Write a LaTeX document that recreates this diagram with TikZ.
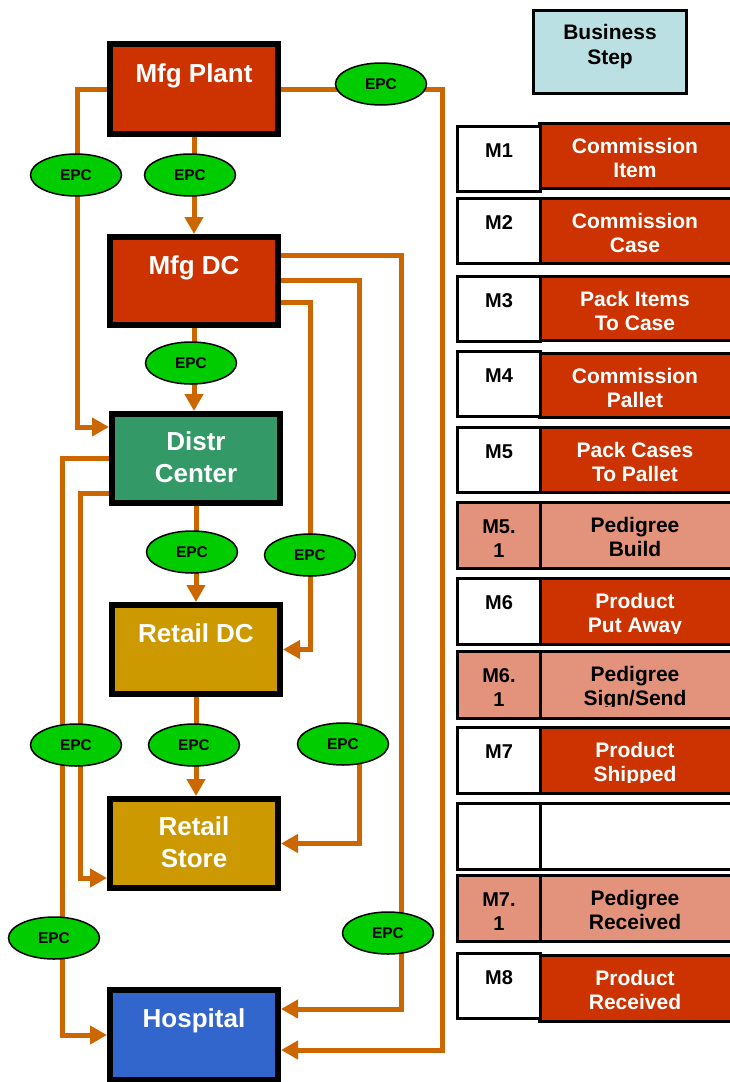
\documentclass[tikz,border=0pt]{standalone}
\usepackage{fontspec}
\setmainfont{Liberation Sans}
\usetikzlibrary{arrows.meta,shapes.geometric}

\definecolor{mfgred}{HTML}{CC3300}
\definecolor{distgreen}{HTML}{339966}
\definecolor{retailgold}{HTML}{CC9900}
\definecolor{hospblue}{HTML}{3366CC}
\definecolor{epcgreen}{HTML}{00CC00}
\definecolor{flowor}{HTML}{CC6600}
\definecolor{stepblue}{HTML}{BBE0E3}
\definecolor{pedfill}{HTML}{E3937C}

% one row of the business-step table:
% #1 id, #2/#3 top/bottom of code cell, #4/#5 top/bottom of step cell,
% #6 kind (plain, ped or blank), #7 code, #8 step text,
% #9 depth of the code's last baseline below the cell top
% (multi-line nodes sit on the baseline of their last line)
\newcommand\bizrow[9]{%
  \path[cell,#6right] (539,#4) rectangle (736,#5);
  \path[cell,#6left] (457.5,#2) rectangle (540.5,#3);
  \begin{scope}
    \clip (457,#2) rectangle (540,{#2+56});
    \node[#6code] (#1code) at (499,{#2+#9}) {#7};
  \end{scope}
  \begin{scope}
    \clip (541,#4) rectangle (730,{#4+55});
    \node[#6text] (#1text) at (635,{#4+54}) {#8};
  \end{scope}
}

\begin{document}
\begin{tikzpicture}[x=1pt,y=-1pt,
  site/.style={draw=black,line width=6pt,minimum width=168pt,inner sep=0pt},
  sitelabel/.style={text=white,font=\fontsize{26pt}{32pt}\selectfont\bfseries,
    align=center,anchor=base,inner sep=0pt},
  epc/.style={ellipse,draw=black,line width=1.5pt,fill=epcgreen,
    minimum width=91pt,minimum height=42pt,inner sep=0pt,
    font=\fontsize{15.5pt}{18pt}\selectfont\bfseries},
  flow/.style={draw=flowor,line width=5pt,
    -{Triangle[length=17pt,width=18pt]}},
  cell/.style={draw=black,line width=3pt},
  plainleft/.style={fill=white},
  plainright/.style={fill=mfgred},
  pedleft/.style={fill=pedfill},
  pedright/.style={fill=pedfill},
  blankleft/.style={fill=white},
  blankright/.style={fill=white},
  codefont/.style={font=\fontsize{20pt}{24pt}\selectfont\bfseries,
    align=center,anchor=base,inner sep=0pt},
  stepfont/.style={font=\fontsize{21pt}{24pt}\selectfont\bfseries,
    align=center,anchor=base,inner sep=0pt},
  plaincode/.style={codefont,text=black},
  pedcode/.style={codefont,text=black},
  blankcode/.style={codefont},
  plaintext/.style={stepfont,text=white},
  pedtext/.style={stepfont,text=black},
  blanktext/.style={stepfont},
]
\useasboundingbox (0,0) rectangle (730,1082);
\clip (0,0) rectangle (730,1082);

% supply-chain sites
\node[site,fill=mfgred,minimum height=90pt] (plant) at (194,89) {};
\node[site,fill=mfgred,minimum height=88pt] (dc) at (194,281) {};
\node[site,fill=distgreen,minimum height=89pt] (distr) at (196,458.5) {};
\node[site,fill=retailgold,minimum height=89pt] (rdc) at (196,649.5) {};
\node[site,fill=retailgold,minimum height=89pt] (store) at (194,843.5) {};
\node[site,fill=hospblue,minimum height=90pt] (hosp) at (194,1035) {};

\node[sitelabel] (plantT) at (194,82) {Mfg Plant};
\node[sitelabel] (dcT) at (194,274) {Mfg DC};
\node[sitelabel] (distrT) at (196,482) {Distr\\Center};
\node[sitelabel] (rdcT) at (196,642) {Retail DC};
\node[sitelabel] (storeT) at (194,867) {Retail\\Store};
\node[sitelabel] (hospT) at (194,1027) {Hospital};

% vertical lanes of the side routes
\coordinate (xPL) at (77,0);
\coordinate (xPR) at (442,0);
\coordinate (xDo) at (401,0);
\coordinate (xDm) at (359,0);
\coordinate (xDi) at (310,0);
\coordinate (xCu) at (62.5,0);
\coordinate (xCl) at (80,0);

% exit and entry points off the box centres
\coordinate (dcO) at ([yshift=26pt]dc.east);
\coordinate (dcM) at ([yshift=1pt]dc.east);
\coordinate (dcI) at ([yshift=-21pt]dc.east);
\coordinate (distrL) at ([yshift=-35pt]distr.west);
\coordinate (distrIn) at ([yshift=31.5pt]distr.west);
\coordinate (storeIn) at ([yshift=-34.5pt]store.west);
\coordinate (hospHi) at ([yshift=26pt]hosp.east);
\coordinate (hospLo) at ([yshift=-15pt]hosp.east);

% product flows
\draw[flow] (plant.south) -- (dc.north);
\draw[flow] (dc.south) -- (distr.north -| dc.south);
\draw[flow] (distr.south) -- (rdc.north);
\draw[flow] (rdc.south) -- (store.north -| rdc.south);
\draw[flow] (plant.west) -- (plant.west -| xPL) |- (distrIn);
\draw[flow] (plant.east) -- (plant.east -| xPR) |- (hospLo);
\draw[flow] (dcO) -- (dcO -| xDo) |- (hospHi);
\draw[flow] (dcM) -- (dcM -| xDm) |- (store.east);
\draw[flow] (dcI) -- (dcI -| xDi) |- (rdc.east);
\draw[flow] (distr.west) -- (distr.west -| xCu) |- (hosp.west);
\draw[flow] (distrL) -- (distrL -| xCl) |- (storeIn);

% EPC events on the flows
\node[epc] (e1) at (381,84) {EPC};
\node[epc] (e2) at (76,175) {EPC};
\node[epc] (e3) at (190,175) {EPC};
\node[epc] (e4) at (191,363) {EPC};
\node[epc] (e5) at (192,552) {EPC};
\node[epc] (e6) at (310,555) {EPC};
\node[epc] (e7) at (76,745) {EPC};
\node[epc] (e8) at (194,745) {EPC};
\node[epc] (e9) at (343,744) {EPC};
\node[epc] (e10) at (54,938) {EPC};
\node[epc] (e11) at (388,933) {EPC};

% business-step table
\node[draw=black,line width=3pt,fill=stepblue,minimum width=153pt,
  minimum height=83pt,inner sep=0pt] (bstep) at (610,52) {};
\node[stepfont,font=\fontsize{21pt}{25pt}\selectfont\bfseries] (bstepT)
  at (610,64) {Business\\Step};

\bizrow{m1}{126}{191}{123}{188}{plain}{M1}{Commission\\Item}{31}
\bizrow{m2}{198}{263}{198}{263}{plain}{M2}{Commission\\Case}{31}
\bizrow{m3}{276}{341}{276}{340}{plain}{M3}{Pack Items\\To Case}{31}
\bizrow{m4}{351}{416}{353}{417}{plain}{M4}{Commission\\Pallet}{31}
\bizrow{m5}{427}{492}{427}{492}{plain}{M5}{Pack Cases\\To Pallet}{31}
\bizrow{m51}{502}{568}{502}{568}{ped}{M5.\\1}{Pedigree\\Build}{55}
\bizrow{m6}{578}{644}{578}{644}{plain}{M6}{Product\\Put Away}{31}
\bizrow{m61}{651}{718}{651}{718}{ped}{M6.\\1}{Pedigree\\Sign/Send}{55}
\bizrow{m7}{727}{793}{727}{793}{plain}{M7}{Product\\Shipped}{31}
\bizrow{mx}{803}{869}{803}{869}{blank}{}{}{31}
\bizrow{m71}{875}{941}{875}{941}{ped}{M7.\\1}{Pedigree\\Received}{55}
\bizrow{m8}{953}{1018}{955}{1021}{plain}{M8}{Product\\Received}{31}
\end{tikzpicture}
\end{document}
